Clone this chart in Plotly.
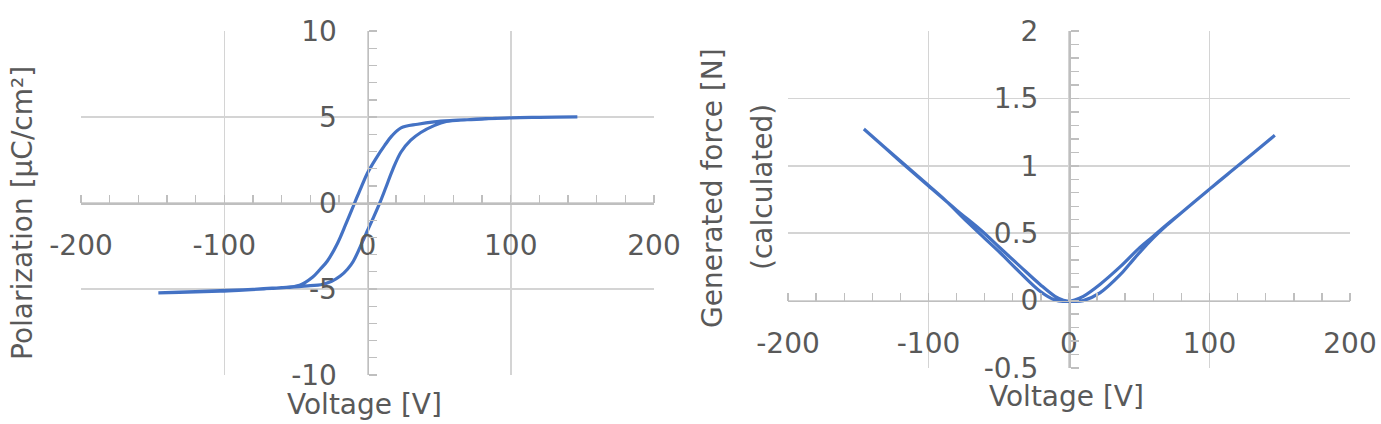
import plotly.graph_objects as go

# ---------------- data ----------------
# Polarization loop, descending branch (+V -> -V)
pv_desc = [146.5, 120, 100, 80, 69.5, 60, 46.5, 35, 23.4, 17, 12, 6, 0, -4,
           -9, -15, -21, -28, -33, -38.2, -47.4, -60, -72, -90, -102.8, -120,
           -146]
p_desc = [5.01, 4.98, 4.95, 4.88, 4.84, 4.80, 4.72, 4.58, 4.37, 3.9, 3.35,
          2.6, 1.75, 1.0, 0.0, -1.2, -2.35, -3.37, -3.85, -4.3, -4.78, -4.92,
          -4.99, -5.08, -5.13, -5.17, -5.22]
# Polarization loop, ascending branch (-V -> +V)
pv_asc = [-146, -120, -102.8, -80, -56.6, -40, -32.6, -25, -19, -14, -10,
          -3.5, 0, 4.65, 8.8, 12.8, 17.4, 23.3, 30.2, 37.2, 46.5, 55, 69.5,
          100, 120, 146.5]
p_asc = [-5.22, -5.15, -5.10, -5.02, -4.91, -4.80, -4.75, -4.55, -4.25, -3.85,
         -3.4, -2.25, -1.6, -0.75, 0.05, 0.9, 1.9, 2.95, 3.65, 4.1, 4.5,
         4.74, 4.84, 4.95, 4.98, 5.01]

# Generated force, descending branch (+V -> -V)
fv_desc = [146.5, 120, 100, 80, 69.5, 60, 50.5, 36.3, 22, 10.2, 4, 0, -4,
           -10, -20.6, -35, -49, -60, -72, -90, -102.8, -120, -146]
f_desc = [1.226, 0.998, 0.827, 0.652, 0.563, 0.478, 0.395, 0.25, 0.12,
          0.032, 0.005, -0.005, -0.006, 0.005, 0.07, 0.21, 0.355, 0.462, 0.58,
          0.764, 0.880, 1.036, 1.273]
# Generated force, ascending branch (-V -> +V)
fv_asc = [-146, -120, -102.8, -80, -63, -49, -35, -20.6, -10, -4, 0, 4, 10.2,
          22, 36.3, 43, 50.5, 60, 69.5, 100, 120, 146.5]
f_asc = [1.273, 1.032, 0.876, 0.671, 0.525, 0.39, 0.256, 0.12, 0.032, 0.003,
         -0.005, -0.006, 0.0, 0.057, 0.19, 0.27, 0.36, 0.465, 0.558, 0.827,
         0.998, 1.226]

x_ticks = [-200, -100, 0, 100, 200]
x_ticklabels = ["-200", "-100", "0", "100", "200"]
p_ticks = [-10, -5, 0, 5, 10]
p_ticklabels = ["-10", "-5", "0", "5", "10"]
f_ticks = [-0.5, 0, 0.5, 1, 1.5, 2]
f_ticklabels = ["-0.5", "0", "0.5", "1", "1.5", "2"]

# ---------------- layout helpers ----------------
W, H = 1381, 424
FONT = "DejaVu Sans"
TXT = "#595959"
GRID = "#d4d4d4"
AXL = "#bfbfbf"
BLUE = "#4472C4"
FS = 28


def px_x(p):
    return p / W


def px_y(p):
    return 1 - p / H


# plot areas (pixels)
L_dom_x = [px_x(81), px_x(654)]
L_dom_y = [px_y(375), px_y(31)]
R_dom_x = [px_x(788), px_x(1350)]
R_dom_y = [px_y(368), px_y(31)]

L_xr, L_yr = [-200, 200], [-10, 10]
R_xr, R_yr = [-200, 200], [-0.5, 2]


def frac(val, rng, dom):
    return dom[0] + (val - rng[0]) / (rng[1] - rng[0]) * (dom[1] - dom[0])


fig = go.Figure()
fig.add_trace(go.Scatter(x=pv_desc + pv_asc, y=p_desc + p_asc, mode="lines",
                         line=dict(color=BLUE, width=3.2, shape="spline", smoothing=1),
                         xaxis="x", yaxis="y", showlegend=False))
fig.add_trace(go.Scatter(x=fv_desc + fv_asc, y=f_desc + f_asc, mode="lines",
                         line=dict(color=BLUE, width=3.2, shape="spline", smoothing=1),
                         xaxis="x2", yaxis="y2", showlegend=False))

tickfont = dict(family=FONT, size=FS, color=TXT)


def axis(dom, rng, pos, minor_dt, tv, tt, standoff):
    return dict(domain=dom, range=rng, anchor="free", position=pos,
                automargin=False,
                tickmode="array", tickvals=tv, ticktext=tt,
                showgrid=True, gridcolor=GRID, gridwidth=1.5, zeroline=False,
                showline=True, linecolor=AXL, linewidth=1.8, ticks="",
                minor=dict(dtick=minor_dt, tick0=0, ticks="inside", ticklen=8,
                           tickcolor=AXL, tickwidth=1.4, showgrid=False),
                tickfont=tickfont, ticklabelstandoff=standoff, fixedrange=True)


fig.update_layout(
    width=W, height=H,
    margin=dict(l=0, r=0, t=0, b=0, autoexpand=False),
    paper_bgcolor="white", plot_bgcolor="white",
    xaxis=axis(L_dom_x, L_xr, frac(0, L_yr, L_dom_y), 20, x_ticks, x_ticklabels, 17),
    yaxis=axis(L_dom_y, L_yr, frac(0, L_xr, L_dom_x), 1, p_ticks, p_ticklabels, 25),
    xaxis2=axis(R_dom_x, R_xr, frac(0, R_yr, R_dom_y), 20, x_ticks, x_ticklabels, 17),
    yaxis2=axis(R_dom_y, R_yr, frac(0, R_xr, R_dom_x), 0.1, f_ticks, f_ticklabels, 25),
)

titlefont = dict(family=FONT, size=FS, color=TXT)
ann = [
    dict(text="Polarization [μC/cm²]", x=px_x(22), y=px_y(213), textangle=-90),
    dict(text="Voltage [V]", x=px_x(365), y=px_y(404), textangle=0),
    dict(text="Voltage [V]", x=px_x(1066), y=px_y(396), textangle=0),
    dict(text="Generated force [N]", x=px_x(712), y=px_y(188), textangle=-90),
    dict(text="(calculated)", x=px_x(762), y=px_y(187), textangle=-90),
]
for a in ann:
    fig.add_annotation(xref="paper", yref="paper", showarrow=False,
                       xanchor="center", yanchor="middle", font=titlefont, **a)

fig.write_html("out.html",
               config={"displayModeBar": False, "staticPlot": True},
               post_script="document.body.style.margin='0';"
                           "document.body.style.padding='0';")
